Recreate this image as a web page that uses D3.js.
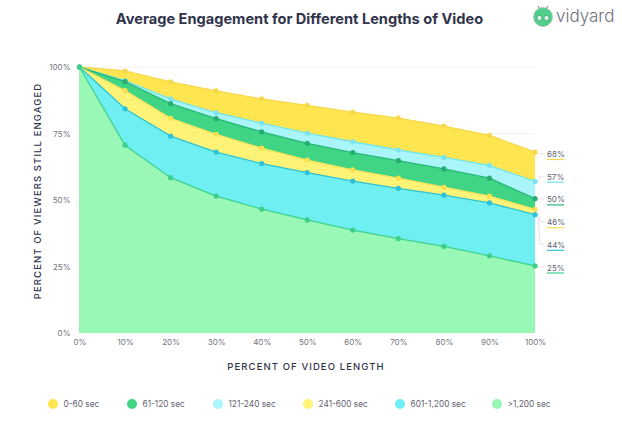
<!DOCTYPE html>
<html>
<head>
<meta charset="utf-8">
<script src="https://cdnjs.cloudflare.com/ajax/libs/d3/7.8.5/d3.min.js"></script>
<style>
html, body { margin: 0; padding: 0; background: #fff; }
svg { display: block; font-family: Inter, sans-serif; }
.tick text { font-size: 8px; fill: #70737c; font-family: Inter, sans-serif; }
.axis-title { font-size: 9.5px; font-weight: 500; fill: #30344a; letter-spacing: 1.1px; }
</style>
</head>
<body>
<svg></svg>
<script>
const progress = [0, 10, 20, 30, 40, 50, 60, 70, 80, 90, 100]
const yTicks = [0, 25, 50, 75, 100]

// painted back to front
const names = ['0-60 sec', '121-240 sec', '61-120 sec', '241-600 sec', '601-1,200 sec', '>1,200 sec']
const v0to60 = [100, 98.5, 94.4, 91, 88, 85.6, 83, 80.8, 77.8, 74.3, 68]
const v121to240 = [100, 94.9, 88, 82.8, 78.9, 75.1, 71.9, 68.8, 66, 63, 57]
const v61to120 = [100, 94.5, 86.2, 80.6, 75.6, 71.3, 67.8, 64.8, 61.7, 58.2, 50.5]
const v241to600 = [100, 91.1, 80.7, 74.7, 69.5, 65, 61.3, 58.2, 54.8, 51.5, 46.5]
const v601to1200 = [100, 84.3, 74, 68, 63.7, 60.3, 57.1, 54.4, 51.8, 48.9, 44.5]
const vOver1200 = [100, 70.6, 58.4, 51.5, 46.6, 42.5, 38.7, 35.5, 32.6, 29, 25.2]
const values = [v0to60, v121to240, v61to120, v241to600, v601to1200, vOver1200]

const fills = ['#ffe54f', '#a9f5f9', '#3fd585', '#fff377', '#6feff2', '#99f8b6']
const strokes = ['#f6d84c', '#72e6ee', '#28b878', '#fbe25c', '#2fc3d2', '#3fd18e']
const dots = ['#f5d94a', '#7ce4f0', '#25ad72', '#fbe04f', '#2ec2d8', '#3ccf8c']

// right hand labels and legend order, top to bottom / left to right
const endNames = ['0-60 sec', '121-240 sec', '61-120 sec', '241-600 sec', '601-1,200 sec', '>1,200 sec']
const endLabels = ['68%', '57%', '50%', '46%', '44%', '25%']
const legendOrder = ['0-60 sec', '61-120 sec', '121-240 sec', '241-600 sec', '601-1,200 sec', '>1,200 sec']
const legendX = [53, 132, 218, 308, 400, 497]

const w = 622, h = 423
const svg = d3.select('svg').attr('width', w).attr('height', h)

const x = d3.scaleLinear().domain([0, 100]).range([79.5, 535])
const y = d3.scaleLinear().domain([0, 100]).range([333, 67])

svg.append('text')
	.attr('x', 299.5).attr('y', 24)
	.attr('text-anchor', 'middle')
	.style('font-size', '14.6px').style('font-weight', 700).style('fill', '#30344a')
	.text('Average Engagement for Different Lengths of Video')

// grid
svg.append('g')
	.selectAll('line')
	.data(yTicks.filter(d => d > 0))
	.enter().append('line')
	.attr('x1', x(0)).attr('x2', x(100))
	.attr('y1', d => y(d)).attr('y2', d => y(d))
	.attr('stroke', '#f0f0f2').attr('stroke-width', 0.8)

const area = d3.area()
	.x((d, i) => x(progress[i]))
	.y0(y(0))
	.y1(d => y(d))

const line = d3.line()
	.x((d, i) => x(progress[i]))
	.y(d => y(d))

const layers = svg.append('g')
	.selectAll('g')
	.data(values)
	.enter().append('g')

layers.append('path')
	.attr('d', d => area(d))
	.attr('fill', (d, i) => fills[i])

layers.append('path')
	.attr('d', d => line(d))
	.attr('fill', 'none')
	.attr('stroke', (d, i) => strokes[i])
	.attr('stroke-width', 1.3)

layers.each(function (d, i) {
	d3.select(this).selectAll('circle')
		.data(d)
		.enter().append('circle')
		.attr('cx', (v, j) => x(progress[j]))
		.attr('cy', v => y(v))
		.attr('r', 2.6)
		.attr('fill', dots[i])
})

// axes
const xAx = d3.axisBottom(x).tickValues(progress).tickFormat(d => d + '%').tickSize(0).tickPadding(6)
const xG = svg.append('g').attr('transform', `translate(0, ${y(0)})`).call(xAx)
xG.select('.domain').remove()

const yAx = d3.axisLeft(y).tickValues(yTicks).tickFormat(d => d + '%').tickSize(0).tickPadding(9)
const yG = svg.append('g').attr('transform', `translate(${x(0)}, 0)`).call(yAx)
yG.select('.domain').remove()

svg.append('text').attr('class', 'axis-title')
	.attr('x', 306).attr('y', 370)
	.attr('text-anchor', 'middle')
	.text('PERCENT OF VIDEO LENGTH')

svg.append('text').attr('class', 'axis-title')
	.attr('transform', 'translate(41, 191) rotate(-90)')
	.attr('text-anchor', 'middle')
	.text('PERCENT OF VIEWERS STILL ENGAGED')

// end labels with leader lines
const labelY = i => 154 + i * 22.7
const ends = svg.append('g')
	.selectAll('g')
	.data(endNames)
	.enter().append('g')

ends.append('path')
	.attr('fill', 'none')
	.attr('stroke', '#d9dade')
	.attr('stroke-width', 0.7)
	.attr('d', (d, i) => {
		const py = y(values[names.indexOf(d)][10])
		return d3.line()([[x(100) + 3, py + 1], [x(100) + 5, labelY(i) - 0.5], [x(100) + 9.5, labelY(i) - 0.5]])
	})

ends.append('text')
	.attr('x', 547).attr('y', (d, i) => labelY(i) + 3)
	.style('font-size', '8px').style('fill', '#5f6270')
	.text((d, i) => endLabels[i])

ends.append('line')
	.attr('x1', 547).attr('x2', 564)
	.attr('y1', (d, i) => labelY(i) + 5.5).attr('y2', (d, i) => labelY(i) + 5.5)
	.attr('stroke', d => strokes[names.indexOf(d)])
	.attr('stroke-width', 1.2)

// legend
const legend = svg.append('g')
	.selectAll('g')
	.data(legendOrder)
	.enter().append('g')
	.attr('transform', (d, i) => `translate(${legendX[i]}, 404)`)

legend.append('circle')
	.attr('r', 5)
	.attr('fill', d => fills[names.indexOf(d)])

legend.append('text')
	.attr('x', 10.5).attr('y', 3)
	.style('font-size', '8.3px').style('fill', '#5f6270')
	.text(d => d)

// logo
const logo = svg.append('g').attr('transform', 'translate(543, 17)')
logo.append('path')
	.attr('d', 'M-3 -8 L-5 -11 M3 -8 L5 -11')
	.attr('stroke', '#6d7280').attr('stroke-width', 1).attr('fill', 'none')
logo.append('circle').attr('r', 9.5).attr('fill', '#4fd08a').attr('stroke', '#b5bac0').attr('stroke-width', 0.8)
logo.selectAll('.eye').data([-3.5, 3.5]).enter().append('circle')
	.attr('cx', d => d).attr('cy', 1).attr('r', 2.6).attr('fill', '#d8f5e5').attr('stroke', '#3a9a6c').attr('stroke-width', 0.7)
svg.append('text')
	.attr('x', 556).attr('y', 22)
	.style('font-size', '17px').style('font-weight', 300).style('fill', '#6d7280')
	.text('vidyard')
</script>
</body>
</html>
